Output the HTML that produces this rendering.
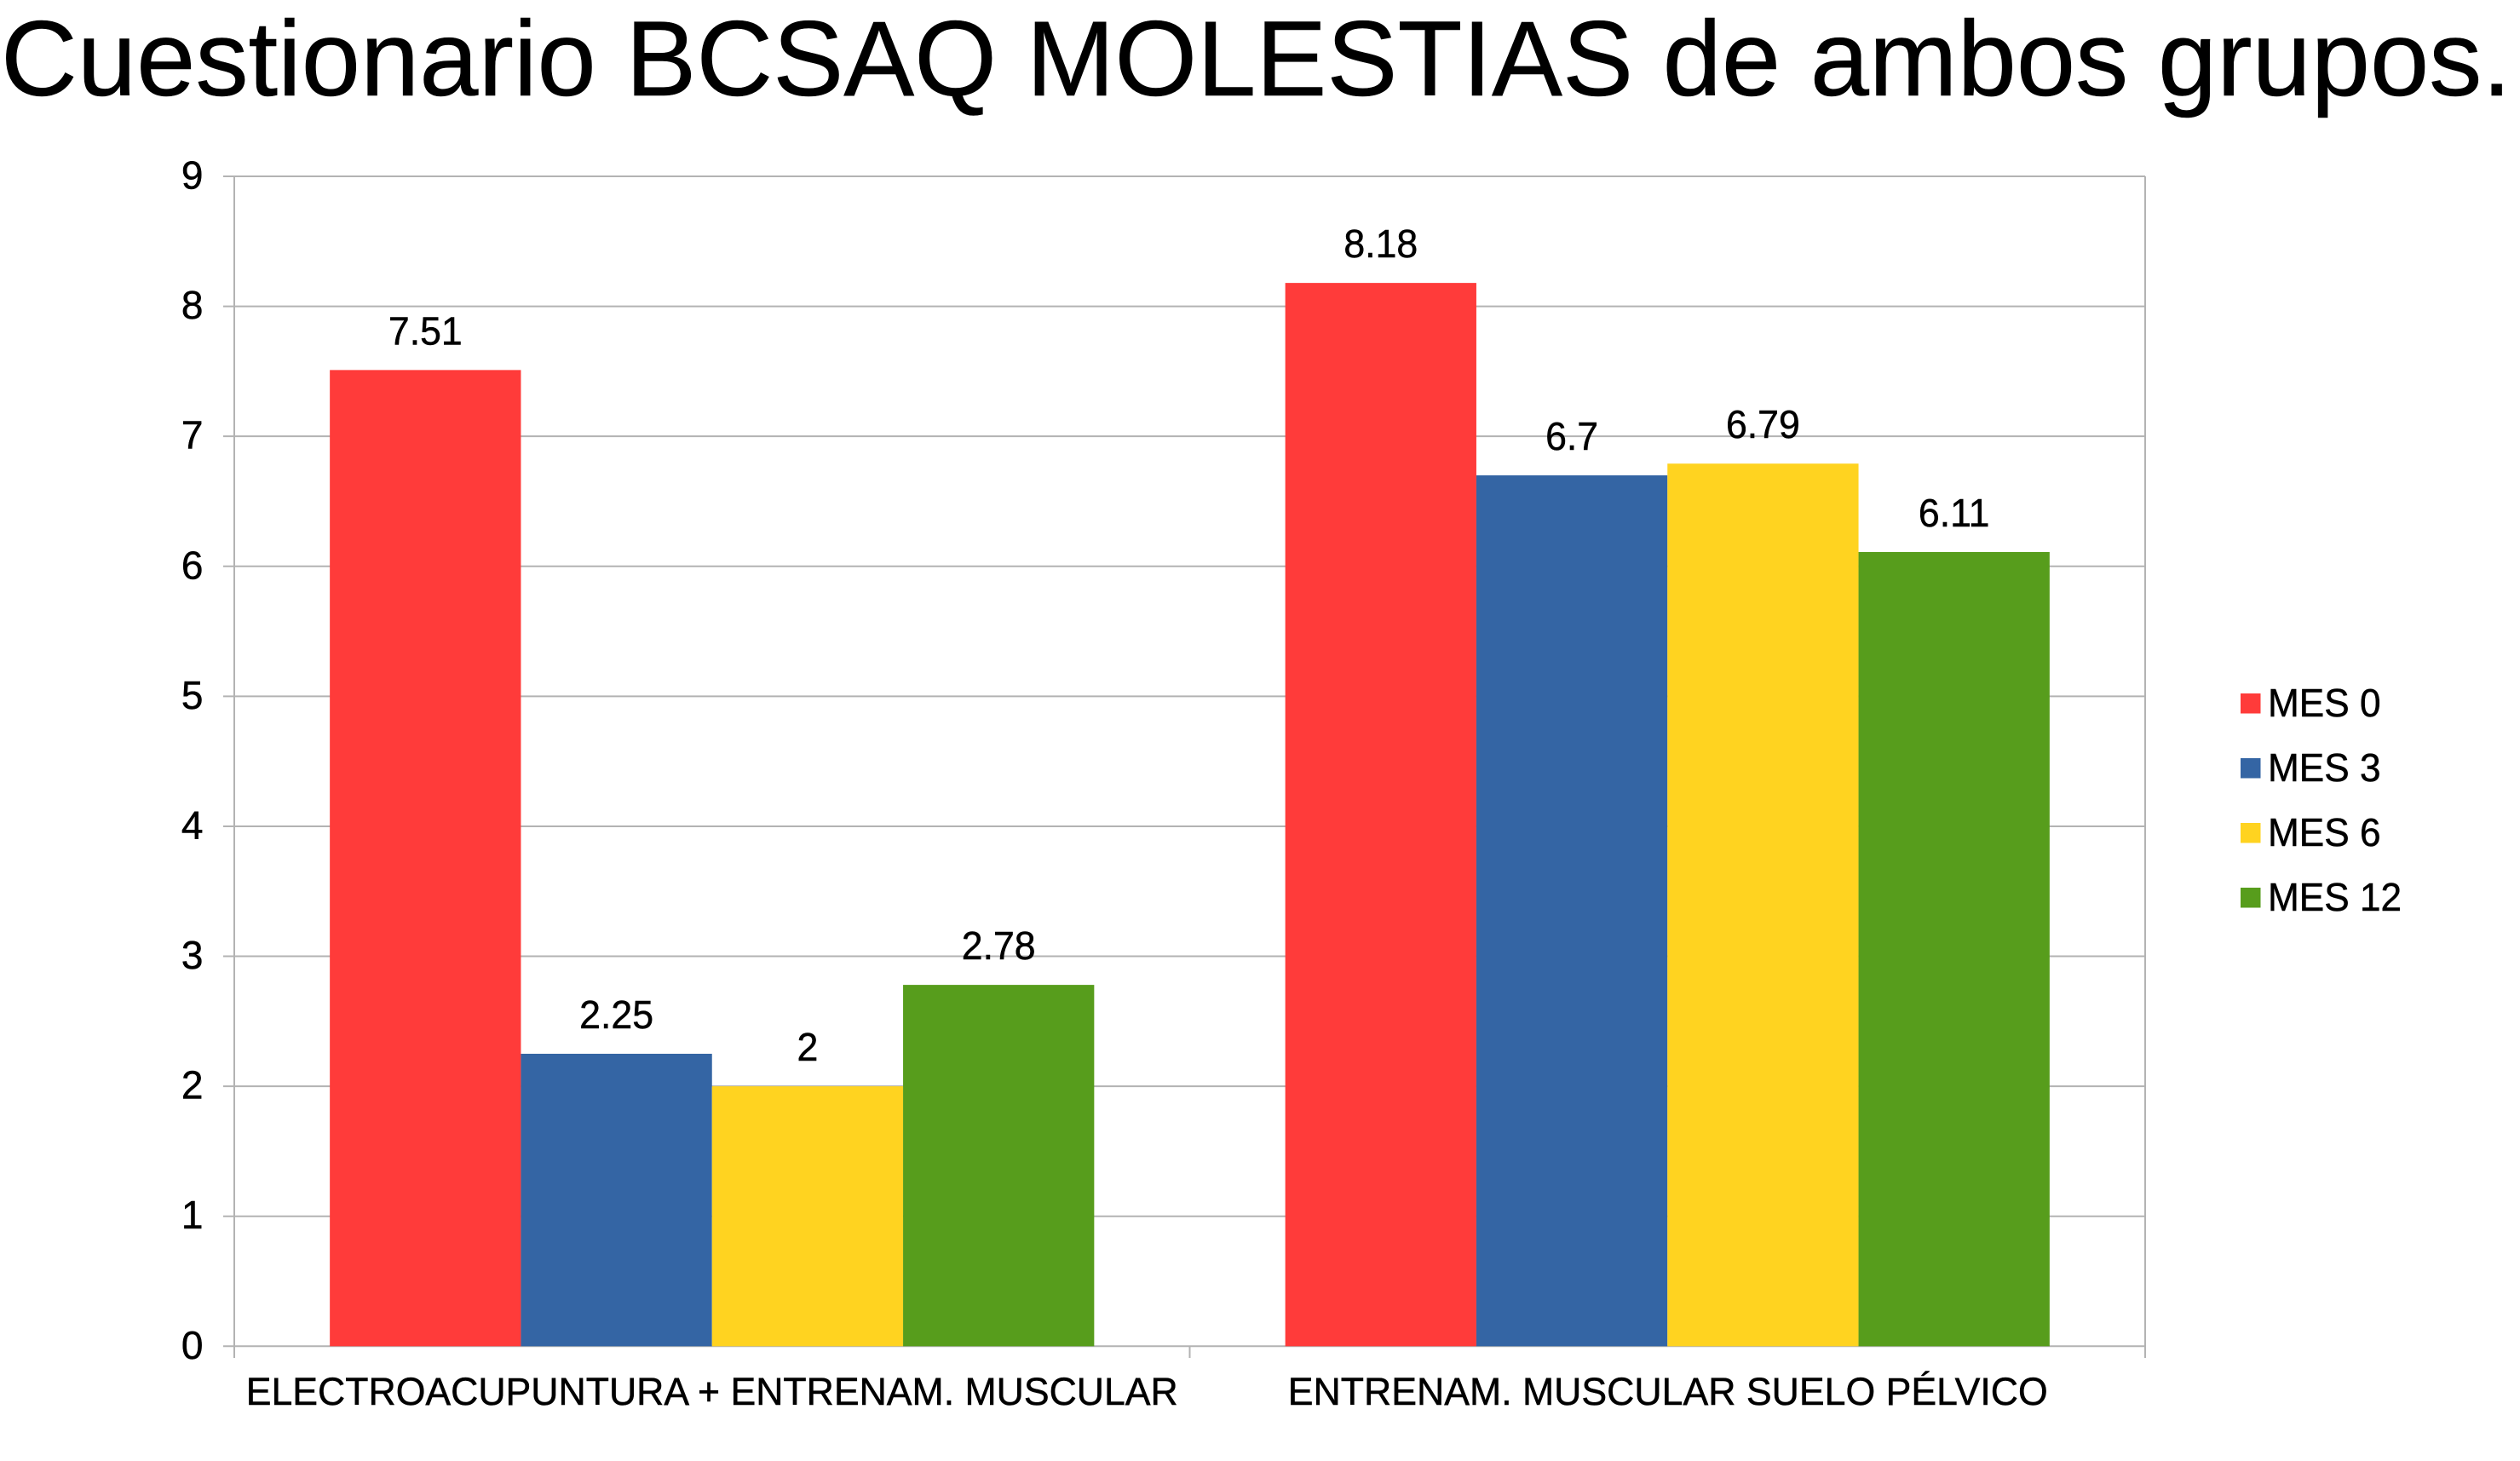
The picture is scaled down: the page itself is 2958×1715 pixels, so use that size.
<!DOCTYPE html>
<html lang="es">
<head>
<meta charset="utf-8">
<title>Cuestionario BCSAQ MOLESTIAS de ambos grupos.</title>
<style>
html,body{margin:0;padding:0;background:#fff;}
body{width:2958px;height:1715px;overflow:hidden;}
svg{display:block;font-family:"Liberation Sans",Arial,sans-serif;fill:#000;}
text{stroke:#000;stroke-width:0.5px;}
</style>
</head>
<body>
<svg id="chart" xmlns="http://www.w3.org/2000/svg" width="2958" height="1715" viewBox="0 0 2958 1715">
  <rect x="0" y="0" width="2958" height="1715" fill="#ffffff"/>
  <text id="title" x="1" y="112" font-size="125" textLength="2947" lengthAdjust="spacingAndGlyphs">Cuestionario BCSAQ MOLESTIAS de ambos grupos.</text>
  <g id="grid"></g>
  <g id="axes"></g>
  <g id="bars"></g>
  <g id="labels"></g>
  <g id="legend"></g>
</svg>
<script>
var categories = ["ELECTROACUPUNTURA + ENTRENAM. MUSCULAR", "ENTRENAM. MUSCULAR SUELO PÉLVICO"];
var seriesNames = ["MES 0", "MES 3", "MES 6", "MES 12"];
var seriesColors = ["#ff3b3a", "#3465a4", "#ffd320", "#579d1c"];
var mes0 = [7.51, 8.18];
var mes3 = [2.25, 6.7];
var mes6 = [2, 6.79];
var mes12 = [2.78, 6.11];
var yTicks = [0, 1, 2, 3, 4, 5, 6, 7, 8, 9];

var seriesValues = [mes0, mes3, mes6, mes12];
var NS = "http://www.w3.org/2000/svg";
var plotLeft = 275, plotRight = 2518, plotTop = 207, plotBottom = 1580.3;
var yMax = yTicks[yTicks.length - 1];
var gridColor = "#b3b3b3";

function yScale(v) { return plotBottom - (v / yMax) * (plotBottom - plotTop); }
function bandWidth() { return (plotRight - plotLeft) / categories.length; }
function barWidth() { return bandWidth() * 0.8 / seriesValues.length; }
function xScale(catIndex, seriesIndex) {
  return plotLeft + catIndex * bandWidth() + bandWidth() * 0.1 + seriesIndex * barWidth();
}
function make(tag, attrs, parent) {
  var el = document.createElementNS(NS, tag);
  for (var k in attrs) { el.setAttribute(k, attrs[k]); }
  parent.appendChild(el);
  return el;
}
function narrow(el, factor) {
  el.setAttribute("textLength", el.getComputedTextLength() * factor);
  el.setAttribute("lengthAdjust", "spacingAndGlyphs");
}

var gridGroup = document.getElementById("grid");
var axesGroup = document.getElementById("axes");
var barsGroup = document.getElementById("bars");
var labelsGroup = document.getElementById("labels");
var legendGroup = document.getElementById("legend");

yTicks.forEach(function (t) {
  var line = make("line", {x1: 262, x2: plotRight, y1: yScale(t), y2: yScale(t), stroke: gridColor, "stroke-width": 2}, gridGroup);
  
  
  var label = make("text", {x: 238.5, y: yScale(t) + 14.5, "font-size": 46, "text-anchor": "end"}, axesGroup);
  label.textContent = t;
  
  
});

var yAxis = make("line", {x1: plotLeft, x2: plotLeft, y1: plotTop, y2: 1594, stroke: gridColor, "stroke-width": 2}, axesGroup);


var rightBorder = make("line", {x1: plotRight, x2: plotRight, y1: plotTop, y2: 1594, stroke: gridColor, "stroke-width": 2}, axesGroup);



categories.forEach(function (name, c) {
  if (c > 0) {
    var tick = make("line", {x1: plotLeft + c * bandWidth(), x2: plotLeft + c * bandWidth(), y1: plotBottom, y2: 1594, stroke: gridColor, "stroke-width": 2}, axesGroup);
    
    
  }
  var cx = plotLeft + (c + 0.5) * bandWidth();
  var label = make("text", {x: cx + (c === 0 ? 0 : 0.5), y: 1649, "font-size": 45, "text-anchor": "middle", textLength: c === 0 ? 1094 : 892, lengthAdjust: "spacingAndGlyphs"}, axesGroup);
  label.textContent = name;
  
  
});

seriesValues.forEach(function (vals, s) {
  vals.forEach(function (v, c) {
    var x = xScale(c, s), y = yScale(v);
    var bar = make("rect", {x: x, y: y, width: barWidth(), height: plotBottom - y, fill: seriesColors[s]}, barsGroup);
    
    
    var label = make("text", {x: x + barWidth() / 2, y: y - 30, "font-size": 46, "text-anchor": "middle"}, labelsGroup);
    label.textContent = v;
    
    
    narrow(label, 0.97);
  });
});

seriesNames.forEach(function (name, s) {
  var swatch = make("rect", {x: 2630, y: 814 + s * 76, width: 23.5, height: 23.5, fill: seriesColors[s]}, legendGroup);
  
  
  var label = make("text", {x: 2662, y: 841 + s * 76, "font-size": 46}, legendGroup);
  label.textContent = name;
  
  
  narrow(label, 0.96);
});
</script>
</body>
</html>
